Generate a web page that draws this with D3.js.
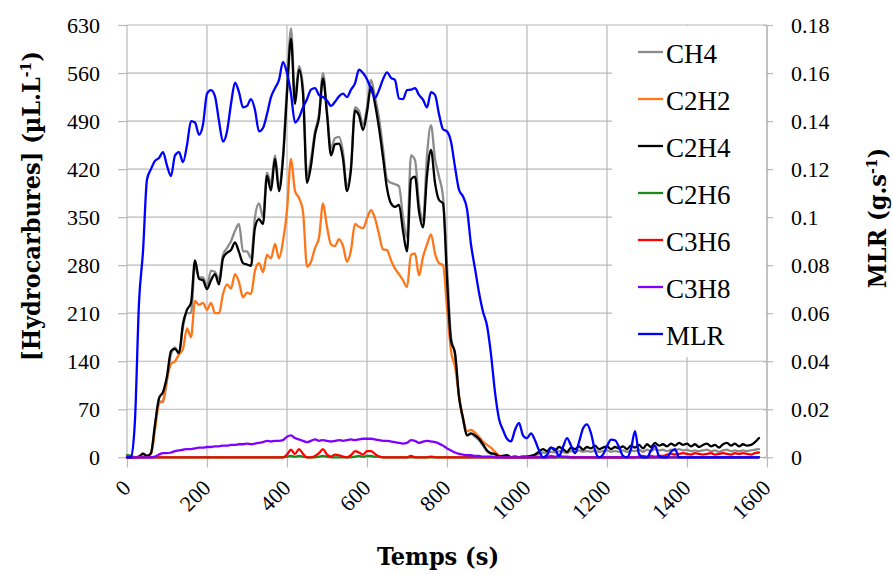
<!DOCTYPE html>
<html><head><meta charset="utf-8">
<script src="https://cdn.jsdelivr.net/npm/d3@7/dist/d3.min.js"></script>
</head><body style="margin:0">
<svg id="chart" width="893" height="574"></svg>
<script>
// ---------- DATA ----------
const timeS = [0,10,20,30,40,50,60,70,80,90,100,110,120,130,140,150,160,170,180,190,
200,210,220,230,240,250,260,270,280,290,300,310,320,330,340,350,360,370,380,390,
400,410,420,430,440,450,460,470,480,490,500,510,520,530,540,550,560,570,580,590,
600,610,620,630,640,650,660,670,680,690,700,710,720,730,740,750,760,770,780,790,
800,810,820,830,840,850,860,870,880,890,900,910,920,930,940,950,960,970,980,990,
1000,1010,1020,1030,1040,1050,1060,1070,1080,1090,1100,1110,1120,1130,1140,1150,1160,1170,1180,1190,
1200,1210,1220,1230,1240,1250,1260,1270,1280,1290,1300,1310,1320,1330,1340,1350,1360,1370,1380,1390,
1400,1410,1420,1430,1440,1450,1460,1470,1480,1490,1500,1510,1520,1530,1540,1550,1560,1570,1580];

const ch4 = [0,0,0,1,6,2,6,45,82,80, 112,150,160,150,190,210,210,280,262,262,
250,272,270,260,295,305,315,330,340,300, 300,290,350,370,350,415,400,440,395,440,
540,625,525,570,540,410,435,475,500,560, 505,450,465,467,445,395,425,510,505,485,
510,550,525,495,450,405,400,398,395,350, 320,440,433,370,345,440,484,435,409,380,
280,175,150,88,55,32,34,30,25,17, 9,5,4,1,2,2,0,1,0,1,
1,2,3,5,7,6,8,7,9,8, 6,9,8,10,8,9,8,10,8,9,
10,8,9,8,10,8,10,9,11,8, 11,9,12,10,11,9,11,10,12,10,
11,9,10,9,10,11,9,10,8,10, 11,9,10,9,10,9,10,11,12];

const c2h2 = [0,0,0,0,1,0,5,40,78,83, 115,136,140,150,158,188,175,228,222,225,
215,225,210,210,238,252,246,267,255,233, 240,238,272,283,270,295,290,311,290,315,
360,435,388,378,358,278,285,305,320,370, 336,310,308,318,308,285,302,340,336,334,
348,360,348,325,303,302,287,275,267,258, 248,295,297,265,292,310,325,297,283,280,
218,155,132,90,58,38,40,36,30,23, 18,14,8,3,0,0,0,0,0,0,
0,0,0,1,0,0,1,0,0,0, 0,0,0,0,0,0,0,0,0,0,
0,0,0,0,0,0,0,0,0,0, 0,0,0,0,0,0,0,0,0,0,
0,0,0,0,0,0,0,0,0,0, 0,0,0,0,0,0,0,0,0];

const c2h4 = [0,0,0,1,5,2,6,48,86,95, 118,155,158,152,195,215,225,287,260,258,
245,258,267,252,290,298,302,313,299,283, 281,279,335,347,340,410,389,435,388,435,
530,610,515,565,530,400,425,470,495,552, 500,440,456,457,435,388,420,505,498,477,
503,540,515,480,437,392,370,365,368,330, 300,405,409,358,335,410,448,400,375,370,
260,170,152,88,57,32,35,32,27,19, 10,6,5,1,2,3,0,1,0,1,
1,2,4,8,12,9,14,10,15,12, 8,14,12,16,11,15,13,17,12,14,
16,12,15,13,16,12,17,14,18,13, 19,15,21,17,19,16,20,17,21,18,
20,16,19,15,18,20,16,18,14,19, 21,17,20,16,19,17,18,22,28];

const c2h6 = [3,2,0,0,0,0,0,0,0,0, 0,0,0,0,0,0,0,0,0,0,
0,0,0,0,0,0,0,0,0,0, 0,0,0,0,0,0,0,0,0,0,
1,2,1,2,1,0,0,0,1,2, 1,0,0,0,0,0,0,1,2,1,
2,2,1,1,0,0,0,0,0,0, 0,0,0,0,0,0,0,0,0,0,
0,0,0,0,0,0,0,0,0,0, 0,0,0,0,0,0,0,0,0,0,
0,0,0,0,0,0,0,0,0,0, 0,0,0,0,0,0,0,0,0,0,
0,0,0,0,0,0,0,0,0,0, 0,0,0,0,0,0,0,0,0,0,
0,0,0,0,0,0,0,0,0,0, 0,0,0,0,0,0,0,0,0];

const c3h6 = [0,0,0,0,0,0,0,0,0,0, 0,0,0,0,0,0,0,0,0,0,
0,0,0,0,0,0,0,0,0,0, 0,0,0,0,0,0,0,0,0,0,
4,11,5,12,5,0,0,2,6,12, 4,1,4,3,1,0,3,9,7,4,
9,9,5,1,0,0,0,0,0,0, 0,2,0,0,0,0,1,0,0,0,
0,0,0,0,0,0,0,0,0,0, 0,0,0,0,0,0,0,0,0,0,
0,0,0,0,0,0,2,1,2,0, 1,0,0,0,0,0,0,0,0,0,
0,0,0,0,0,0,0,0,1,2, 1,2,1,2,2,4,5,4,5,6,
5,4,6,5,4,5,6,4,5,6, 5,4,6,5,6,5,4,6,7];

const c3h8 = [0,0,0,0,0,0,0,1,4,6, 6,7,9,10,11,12,12,13,14,14,
15,15,16,16,17,17,18,18,19,19, 20,19,20,21,22,24,23,24,24,25,
30,32,28,26,24,22,24,26,24,25, 24,23,24,25,24,25,26,25,26,27,
27,27,26,25,24,24,23,22,21,20, 21,25,24,21,23,24,23,22,20,17,
13,10,7,5,4,3,3,2,2,1, 1,1,0,0,0,0,0,0,0,0,
0,0,0,0,0,0,0,0,1,1, 0,0,0,0,0,0,0,0,0,0,
0,0,0,0,0,0,0,0,0,0, 0,0,0,0,0,0,0,0,0,0,
0,0,0,0,0,0,0,0,0,0, 0,0,0,0,0,0,0,0,0];

const mlr = [0,0,0.0157,0.0643,0.0857,0.1157,0.12,0.1234,0.1246,0.1271,
0.1214,0.1171,0.1257,0.1271,0.1229,0.13,0.14,0.1394,0.1343,0.1386,
0.1514,0.1529,0.1503,0.14,0.1314,0.1357,0.1471,0.156,0.152,0.1457,
0.1463,0.1491,0.1446,0.1357,0.1371,0.1429,0.15,0.1537,0.1571,0.1646,
0.16,0.1514,0.1394,0.1414,0.1457,0.1491,0.1531,0.1537,0.1509,0.15,
0.1486,0.1463,0.148,0.1503,0.1514,0.15,0.1531,0.1557,0.1614,0.16,
0.1574,0.1534,0.1497,0.1529,0.1574,0.1603,0.158,0.1571,0.1494,0.1491,
0.1529,0.1531,0.1537,0.1509,0.1489,0.1457,0.152,0.1509,0.1429,0.1366,
0.1357,0.1314,0.1209,0.1114,0.1086,0.1034,0.0886,0.0786,0.0686,0.0606,
0.0549,0.0429,0.0271,0.016,0.0114,0.0077,0.0066,0.0114,0.0143,0.0091,
0.008,0.01,0.0071,0.0029,0,0.0009,0.004,0.0034,0.0006,0.0043,
0.008,0.0049,0.0017,0.0063,0.012,0.0137,0.01,0.0029,0,0.0011,
0.0046,0.0074,0.0071,0.0043,0.0006,0,0.0034,0.0109,0.0014,0,
0,0.0029,0.0049,0.0006,0,0,0.0023,0.0034,0,0,
0,0,0,0,0,0,0,0,0,0, 0,0,0,0,0,0,0,0,0];

const seriesNames  = ["CH4","C2H2","C2H4","C2H6","C3H6","C3H8","MLR"];
const seriesColors = ["#8c8c8c","#ff7518","#000000","#1a8a1a","#ff0000","#8000ff","#0000ff"];
const leftTicks   = [0,70,140,210,280,350,420,490,560,630];
const rightTicks  = [0,0.02,0.04,0.06,0.08,0.1,0.12,0.14,0.16,0.18];
const rightLabels = ["0","0.02","0.04","0.06","0.08","0.1","0.12","0.14","0.16","0.18"];
const xTicks      = [0,200,400,600,800,1000,1200,1400,1600];

// ---------- LAYOUT ----------
const FONT_REG  = "Liberation Serif, Tinos, Times New Roman, Nimbus Roman, FreeSerif, Noto Serif, DejaVu Serif Condensed, DejaVu Serif";
const FONT_BOLD = "DejaVu Serif Condensed, DejaVu Serif";
const L = 127, R = 767, T = 25, B = 457.3;
const svg = d3.select("#chart");
const x  = d3.scaleLinear().domain([0,1600]).range([L,R]);
const yL = d3.scaleLinear().domain([0,630]).range([B,T]);
const yR = d3.scaleLinear().domain([0,0.18]).range([B,T]);
const gridColor = "#b8b8b8";
function fnt(sel, size, bold){
  return sel.attr("font-family", bold ? FONT_BOLD : FONT_REG)
    .attr("font-stretch", bold ? "condensed" : null)
    .attr("font-weight", bold ? "bold" : null)
    .attr("font-size",size).attr("fill","#000");
}

const grid = svg.append("g");
grid.selectAll("line.h").data(leftTicks).join("line")
  .attr("x1",L).attr("x2",R).attr("y1",d=>yL(d)).attr("y2",d=>yL(d))
  .attr("stroke",gridColor).attr("stroke-width",1.2);
grid.selectAll("line.v").data(xTicks).join("line")
  .attr("x1",d=>x(d)).attr("x2",d=>x(d)).attr("y1",T).attr("y2",B)
  .attr("stroke",gridColor).attr("stroke-width",1.2);

// tick marks from d3 axes
const fsTick = 22;
const axL = svg.append("g").attr("transform",`translate(${L},0)`)
  .call(d3.axisLeft(yL).tickValues(leftTicks).tickSize(9).tickFormat(""));
const axR = svg.append("g").attr("transform",`translate(${R},0)`)
  .call(d3.axisRight(yR).tickValues(rightTicks).tickSize(6).tickFormat(""));
const axB = svg.append("g").attr("transform",`translate(0,${B})`)
  .call(d3.axisBottom(x).tickValues(xTicks).tickSize(10).tickFormat(""));
[axL,axR,axB].forEach(a=>{
  a.select(".domain").remove();
  a.selectAll(".tick line").attr("stroke",gridColor).attr("stroke-width",1.2);
});
axR.selectAll(".tick line").attr("x1",-4);
svg.append("line").attr("x1",R).attr("x2",R).attr("y1",T).attr("y2",B)
  .attr("stroke",gridColor).attr("stroke-width",1.2);

// tick labels
fnt(svg.append("g").selectAll("text").data(leftTicks).join("text"), fsTick)
  .attr("x",L-27).attr("y",d=>yL(d)).attr("dy","0.36em").attr("text-anchor","end").text(d=>d);
fnt(svg.append("g").selectAll("text").data(rightTicks).join("text"), fsTick)
  .attr("x",R+24).attr("y",d=>yR(d)).attr("dy","0.36em").text((d,i)=>rightLabels[i]);
fnt(svg.append("g").selectAll("text").data(xTicks).join("text"), fsTick)
  .attr("transform",d=>`translate(${x(d)+5},${B+32}) rotate(-45)`)
  .attr("text-anchor","end").text(d=>d);

// series lines
const hcSeries = [ch4,c2h2,c2h4,c2h6,c3h6,c3h8];
const lineL = d3.line().x((d,i)=>x(timeS[i])).y(d=>yL(d)).curve(d3.curveMonotoneX);
const lineR = d3.line().x((d,i)=>x(timeS[i])).y(d=>yR(d)).curve(d3.curveMonotoneX);
const gl = svg.append("g").attr("fill","none").attr("stroke-linejoin","round").attr("stroke-linecap","round");
hcSeries.forEach((s,k)=>{
  gl.append("path").attr("d",lineL(s)).attr("stroke",seriesColors[k]).attr("stroke-width",2.3);
});
gl.append("path").attr("d",lineR(mlr)).attr("stroke",seriesColors[6]).attr("stroke-width",2.3);

// legend
const lg = svg.append("g");
lg.append("rect").attr("x",612).attr("y",T+1).attr("width",R-612-1).attr("height",331).attr("fill","#fff");
const legY0 = 52.5, legStep = 47;
seriesNames.forEach((n,i)=>{
  const cy = legY0 + i*legStep;
  lg.append("line").attr("x1",638).attr("x2",663).attr("y1",cy-0.5).attr("y2",cy-0.5)
    .attr("stroke",seriesColors[i]).attr("stroke-width",2.3);
  fnt(lg.append("text"), 27).attr("x",666).attr("y",cy+10).text(n);
});

// axis titles
fnt(svg.append("text"), 25, true).attr("x",438).attr("y",565).attr("text-anchor","middle")
  .text("Temps (s)");

const tl = fnt(svg.append("text"), 25, true).attr("transform","translate(40,206) rotate(-90)")
  .attr("text-anchor","middle");
tl.append("tspan").text("[Hydrocarbures] (\u00b5L.L");
tl.append("tspan").attr("dy","-0.55em").attr("font-size","0.62em").text("-1");
tl.append("tspan").attr("dy","0.34em").text(")");

const tr = fnt(svg.append("text"), 25, true).attr("transform","translate(886,218) rotate(-90)")
  .attr("text-anchor","middle");
tr.append("tspan").text("MLR (g.s");
tr.append("tspan").attr("dy","-0.55em").attr("font-size","0.62em").text("-1");
tr.append("tspan").attr("dy","0.34em").text(")");
</script>
</body></html>
